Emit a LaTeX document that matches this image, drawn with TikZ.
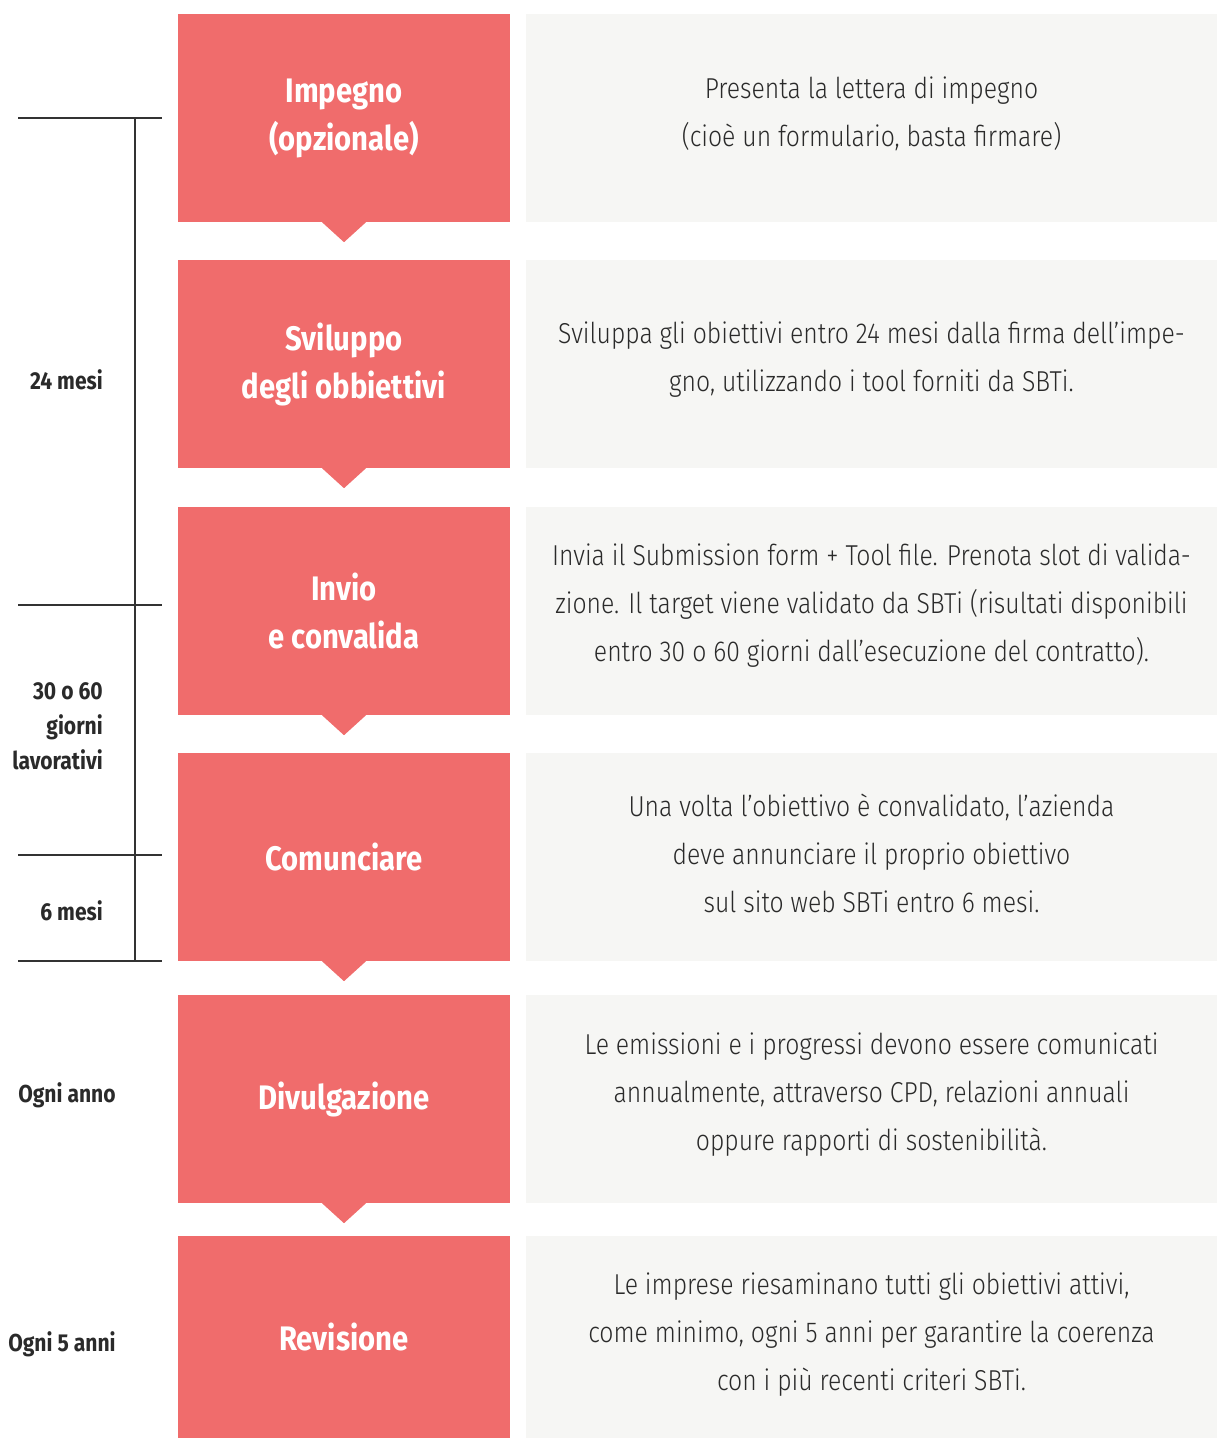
\documentclass[tikz,border=0pt]{standalone}
\usepackage{fontspec}
\setmainfont{Fira Sans}[FakeStretch=0.86]
\newfontfamily\thinfont{Fira Sans Light}[FakeStretch=0.86]
\usetikzlibrary{positioning}
\definecolor{Coral} {HTML}{F06C6C}
\definecolor{Paper} {HTML}{F6F6F4}
\definecolor{Ink}   {HTML}{2A2A2A}
\definecolor{Rule}  {HTML}{333333}
\tikzset{
  phase/.style={
    rectangle, fill=Coral, text=white,
    font=\fontsize{34}{48}\selectfont\bfseries, align=center,
    inner sep=0pt, minimum width=332pt, minimum height=208pt,
  },
  note/.style={
    rectangle, fill=Paper, text=Ink,
    font=\thinfont\fontsize{28.8}{48}\selectfont, align=center,
    inner sep=0pt, minimum width=691pt, minimum height=208pt,
  },
  tick/.style={draw=Rule, line width=1.2pt},
  span/.style={
    font=\fontsize{24.5}{35}\selectfont\bfseries, text=Ink,
    align=right, inner sep=0pt,
  },
}

\begin{document}
\begin{tikzpicture}[x=1pt,y=-1pt]
  \useasboundingbox (0,0) rectangle (1217,1438);
  % phases
  \node[phase](p1) at (344,118) {Impegno\\(opzionale)};
  \node[phase](p2) at (344,364) {Sviluppo\\degli obbiettivi};
  \node[phase](p3) at (344,611) {Invio\\e convalida};
  \node[phase](p4) at (344,857) {Comunciare};
  \node[phase](p5) at (344,1099){Divulgazione};
  \node[phase,minimum height=202pt](p6) at (344,1337){Revisione};
  % notches between phases
  \foreach \n in {1,...,5}
    \fill[Coral] ([xshift=-22pt]p\n.south) -- ([yshift=-20pt]p\n.south) -- ([xshift=22pt]p\n.south) -- cycle;
  % descriptions (text sits a little above centre)
  \node[note](d1) at (871.5,118) {};
  \node[note](d2) at (871.5,364) {};
  \node[note](d3) at (871.5,611) {};
  \node[note](d4) at (871.5,857) {};
  \node[note](d5) at (871.5,1099){};
  \node[note,minimum height=202pt](d6) at (871.5,1337){};
  \node[note,fill=none,yshift=4pt] at (d1) {Presenta la lettera di impegno\\(cioè un formulario, basta firmare)};
  \node[note,fill=none,yshift=4pt] at (d2) {Sviluppa gli obiettivi entro 24 mesi dalla firma dell’impe-\\gno, utilizzando i tool forniti da SBTi.};
  \node[note,fill=none,yshift=5pt] at (d3) {Invia il Submission form + Tool file. Prenota slot di valida-\\zione. Il target viene validato da SBTi (risultati disponibili\\entro 30 o 60 giorni dall’esecuzione del contratto).};
  \node[note,fill=none,yshift=4pt] at (d4) {Una volta l’obiettivo è convalidato, l’azienda\\deve annunciare il proprio obiettivo\\sul sito web SBTi entro 6 mesi.};
  \node[note,fill=none,yshift=4pt] at (d5) {Le emissioni e i progressi devono essere comunicati\\annualmente, attraverso CPD, relazioni annuali\\oppure rapporti di sostenibilità.};
  \node[note,fill=none,yshift=2pt] at (d6) {Le imprese riesaminano tutti gli obiettivi attivi,\\come minimo, ogni 5 anni per garantire la coerenza\\con i più recenti criteri SBTi.};
  % timeline
  \coordinate (t0) at (135,118);
  \coordinate (t1) at (135,605);
  \coordinate (t2) at (135,855);
  \coordinate (t3) at (135,961);
  \draw[tick] (t0) -- (t3);
  \foreach \t in {t0,t1,t2,t3}
    \draw[tick] ([xshift=-117pt]\t) -- ([xshift=27pt]\t);
  \node[span,anchor=east](s1) at (103,380) {24 mesi};
  \node[span,anchor=east](s2) at (103,726) {30 o 60\\giorni\\lavorativi};
  \node[span,anchor=east](s3) at (103,911) {6 mesi};
  \node[span](s4) at (67,1095) {Ogni anno};
  \node[span](s5) at (62,1344) {Ogni 5 anni};
\end{tikzpicture}
\end{document}
